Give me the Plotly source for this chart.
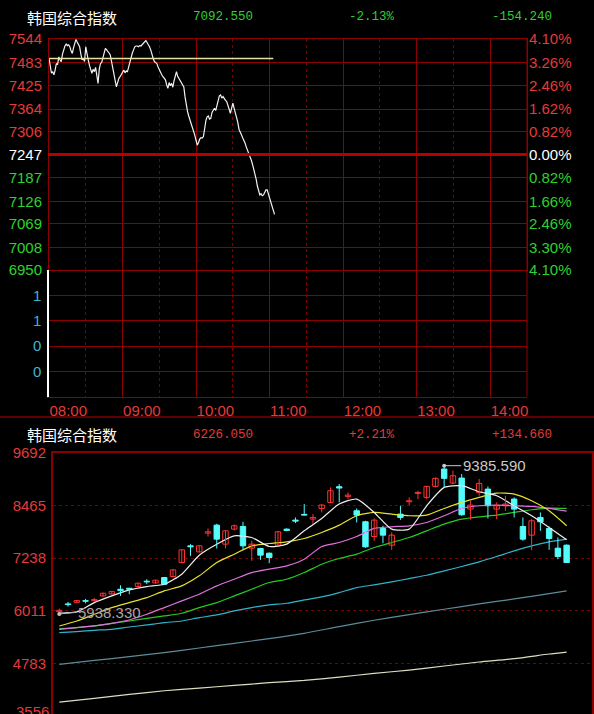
import plotly.graph_objects as go
import pandas as pd

# ---------------- data ----------------
index_name = "韩国综合指数"
intraday_header = ["7092.550", "-2.13%", "-154.240"]
daily_header = ["6226.050", "+2.21%", "+134.660"]
pre_close = 7246.79

intraday_start = "2000-01-03 08:00"
intraday_price = [7494,7470,7456,7460,7452,7464,7481,7478,7498,7490,
                  7486,7505,7520,7526,7531,7527,7529,7524,7514,7507,
                  7521,7530,7543,7536,7530,7524,7505,7490,7494,7486,
                  7524,7511,7490,7476,7468,7456,7466,7460,7471,7452,
                  7430,7466,7481,7484,7499,7512,7520,7516,7510,7508,
                  7503,7484,7466,7451,7437,7421,7434,7443,7447,7452,
                  7458,7464,7457,7462,7460,7474,7486,7497,7508,7516,
                  7524,7526,7526,7524,7527,7526,7529,7534,7537,7540,
                  7535,7530,7524,7516,7501,7494,7486,7484,7481,7472,
                  7464,7460,7452,7447,7443,7439,7426,7417,7432,7424,
                  7430,7420,7436,7451,7460,7448,7443,7439,7432,7428,
                  7421,7395,7370,7358,7346,7336,7327,7316,7310,7296,
                  7283,7271,7278,7287,7290,7289,7293,7318,7334,7344,
                  7346,7338,7340,7355,7362,7366,7360,7374,7392,7398,
                  7400,7392,7396,7390,7386,7383,7372,7360,7353,7366,
                  7379,7366,7354,7344,7330,7312,7302,7298,7290,7284,
                  7276,7266,7258,7250,7244,7233,7222,7210,7199,7184,
                  7166,7152,7143,7146,7141,7143,7150,7156,7156,7145,
                  7134,7122,7110,7100,7093]
avg_time = ["08:00", "11:03"]
avg_price = [7494, 7494]

price_ticks = [7544, 7483, 7425, 7364, 7306, 7247, 7187, 7126, 7069, 7008, 6950]
pct_ticks = ["4.10%", "3.26%", "2.46%", "1.62%", "0.82%", "0.00%", "0.82%", "1.66%", "2.46%", "3.30%", "4.10%"]
vol_tick_vals = [0.8, 0.6, 0.4, 0.2]
vol_tick_text = ["1", "1", "0", "0"]
time_ticks = ["08:00", "09:00", "10:00", "11:00", "12:00", "13:00", "14:00"]
session = ["08:00", "14:30"]

candle_open = [5994,6173,6212,6250,6250,6359,6406,6514,6538,6576,6701,6662,6786,6809,7135,7523,7383,7818,8004,7562,
               7911,7973,7469,7461,7352,7539,7911,8121,8253,8144,8392,8532,8897,8672,8338,8082,7740,7927,7539,8260,
               8547,8741,8648,8904,9308,8982,9098,8377,8765,8842,8377,8454,8610,7973,7771,8183,7927,7469,7539]
candle_close = [6025,6157,6250,6235,6274,6421,6460,6483,6514,6654,6685,6724,6631,6964,7430,7500,7523,7849,7678,7872,
                7989,7523,7562,7306,7251,7849,7880,8097,8237,8183,8470,8803,8866,8703,8237,7500,8121,7771,7771,8183,
                8571,8765,8904,9091,9091,9153,8245,8470,8974,8454,8454,8493,8377,7678,8105,8082,7694,7275,7135]
candle_high = [6064,6219,6266,6289,6313,6437,6475,6607,6545,6670,6747,6732,6801,6980,7446,7562,7539,7927,8035,7888,
               8020,8082,7640,7477,7368,7872,7927,8183,8493,8260,8493,8881,8959,8765,8392,8105,8159,7989,7833,8454,
               8648,8803,8920,9114,9385.59,9269,9191,8571,9075,8904,8532,8687,8648,8183,8144,8299,7973,7717,7554]
candle_low = [5938.33,6111,6196,6188,6219,6344,6390,6359,6398,6561,6631,6646,6615,6794,7120,7290,7368,7740,7461,7461,
              7880,7446,7174,7197,7120,7523,7864,8051,8229,8027,8299,8516,8532,8610,8066,7477,7640,7585,7430,8128,
              8470,8610,8610,8881,8881,8959,8221,8128,8687,8159,8144,8338,8183,7640,7422,7872,7430,7213,7135]
candle_idx = list(range(len(candle_open)))

ma_idx = [0,2,4,6,8,10,12,14,16,18,20,22,24,26,28,30,32,34,36,38,40,42,44,46,48,50,52,54,56,58]
ma5 = [5956,5987,6204,6359,6499,6576,6631,6864,7306,7562,7756,7717,7508,7562,7872,8159,8493,8610,8299,7911,
       7911,8454,8881,8920,8780,8687,8454,8222,7950,7663]
ma10 = [5661,5777,5932,6088,6204,6320,6476,6592,6825,7135,7329,7523,7577,7616,7694,7834,8004,8222,8299,8260,
        8222,8237,8392,8532,8648,8749,8726,8571,8338,7989]
ma20 = [5583,5622,5661,5723,5800,5932,6088,6243,6398,6592,6747,6902,6980,7058,7213,7508,7601,7740,7927,7965,
        7989,8066,8222,8392,8454,8470,8454,8439,8392,8330]
ma30 = [5599,5622,5661,5723,5777,5839,5894,5956,6088,6204,6359,6514,6670,6747,6902,7096,7228,7329,7484,7601,
        7717,7872,8028,8144,8198,8237,8299,8361,8400,8392]
ma60 = [5506,5529,5560,5583,5637,5684,5738,5777,5855,5917,6010,6088,6150,6188,6266,6336,6437,6553,6615,6685,
        6763,6840,6941,7042,7151,7275,7407,7523,7616,7678]
ma_long_idx = [0,4,8,12,16,20,24,28,32,36,40,44,48,52,56,58]
ma120 = [4768,4861,4947,5040,5149,5257,5366,5490,5645,5793,5925,6049,6173,6289,6413,6476]
ma250 = [3891,3977,4070,4155,4217,4279,4342,4396,4473,4559,4636,4730,4823,4900,5009,5055]

daily_ticks = [9692, 8465, 7238, 6011, 4783]
daily_cut_label = "3556"
daily_range = [3615, 9692]

# ---------------- style ----------------
W, H = 594, 714
RED_TXT = "#e23b3b"
GREEN_TXT = "#2ed12e"
GRID = "#8e0000"
GRID_DOT = "#7a0000"
CYAN_TXT = "#3fb3d3"
UP = "#ff3232"
DOWN = "#54fcfc"
FONT = "Liberation Sans, Arial, sans-serif"
MONO = "Liberation Mono, DejaVu Sans Mono, monospace"
CJK = "Noto Sans CJK SC, sans-serif"


def px(x):
    return x / W


def py(y):
    return 1 - y / H


DAY = "2000-01-03 "


def d(t):
    return DAY + t


intraday_time = pd.date_range(intraday_start, periods=len(intraday_price), freq="min")

x_dom = [px(49), px(527)]
price_dom = [py(270), py(39)]
vol_dom = [py(396.7), py(270)]
daily_x_dom = [px(53), px(592)]
daily_y_dom = [0, py(452.5)]


def col_price(v):
    if v > 7247:
        return RED_TXT
    if v < 7247:
        return GREEN_TXT
    return "#ffffff"


price_text = [f'<span style="color:{col_price(v)}">{v}</span>' for v in price_ticks]
pct_text = [f'<span style="color:{col_price(v)}">{p}</span>' for v, p in zip(price_ticks, pct_ticks)]

fig = go.Figure()

# intraday
fig.add_trace(go.Scatter(x=intraday_time, y=intraday_price, mode="lines",
                         line=dict(color="#f2f2f2", width=1.2), xaxis="x", yaxis="y", hoverinfo="skip"))
fig.add_trace(go.Scatter(x=[d(t) for t in avg_time], y=avg_price, mode="lines",
                         line=dict(color="#e6e0a8", width=1.5), xaxis="x", yaxis="y3", hoverinfo="skip"))
fig.add_trace(go.Scatter(x=[d(t) for t in session], y=[None, None], mode="lines",
                         xaxis="x2", yaxis="y2", hoverinfo="skip"))

# moving averages (under candles)
for vals, xs, color in [(ma250, ma_long_idx, "#e0dcc0"), (ma120, ma_long_idx, "#5a8c9a"),
                        (ma60, ma_idx, "#2fb4cc"), (ma30, ma_idx, "#22cc22"),
                        (ma20, ma_idx, "#e070e0"), (ma10, ma_idx, "#e6e22a"), (ma5, ma_idx, "#f0f0f0")]:
    fig.add_trace(go.Scatter(x=xs, y=vals, mode="lines",
                             line=dict(color=color, width=1.2, shape="spline", smoothing=0.6),
                             xaxis="x3", yaxis="y4", hoverinfo="skip"))

# candles: wicks + bodies
for up in (True, False):
    sel = [i for i in candle_idx if (candle_close[i] >= candle_open[i]) == up]
    wx, wy = [], []
    for i in sel:
        wx += [i, i, None]
        wy += [candle_low[i], candle_high[i], None]
    color = UP if up else DOWN
    fig.add_trace(go.Scatter(x=wx, y=wy, mode="lines", line=dict(color=color, width=1),
                             xaxis="x3", yaxis="y4", hoverinfo="skip"))
    fig.add_trace(go.Bar(x=sel,
                         y=[abs(candle_close[i] - candle_open[i]) for i in sel],
                         base=[min(candle_close[i], candle_open[i]) for i in sel],
                         width=0.62,
                         marker=dict(color="#000000" if up else DOWN, line=dict(color=color, width=1)),
                         xaxis="x3", yaxis="y4", hoverinfo="skip"))

hi_i = max(candle_idx, key=lambda i: candle_high[i])
lo_i = min(candle_idx, key=lambda i: candle_low[i])
fig.add_trace(go.Scatter(x=[hi_i, lo_i], y=[candle_high[hi_i], candle_low[lo_i]], mode="markers",
                         marker=dict(color="#c8c8c8", size=4), xaxis="x3", yaxis="y4", hoverinfo="skip"))

tick_font = dict(family=FONT, size=15)

fig.update_layout(
    width=W, height=H, autosize=False,
    margin=dict(l=0, r=0, t=0, b=0, pad=0, autoexpand=False),
    paper_bgcolor="#000000", plot_bgcolor="#000000",
    showlegend=False, barmode="overlay",
    xaxis=dict(domain=x_dom, anchor="y", type="date", range=[d(session[0]), d(session[1])],
               tickvals=[d(t) for t in time_ticks], showticklabels=False, ticks="",
               showgrid=True, gridcolor=GRID, gridwidth=1,
               minor=dict(dtick=1800000, tick0=d("08:30"), showgrid=True, gridcolor=GRID_DOT, griddash="dot", gridwidth=1),
               showline=True, mirror=True, linecolor=GRID, linewidth=1, zeroline=False),
    yaxis=dict(domain=price_dom, anchor="x", range=[price_ticks[-1], price_ticks[0]],
               tickvals=price_ticks, ticktext=price_text, tickfont=tick_font, ticks="", ticklabelstandoff=3,
               showgrid=True, gridcolor=GRID, gridwidth=1, zeroline=False,
               showline=True, mirror=True, linecolor=GRID, linewidth=1),
    yaxis3=dict(overlaying="y", side="right", anchor="x", range=[price_ticks[-1], price_ticks[0]],
                tickvals=price_ticks, ticktext=pct_text, tickfont=tick_font, ticks="", ticklabelstandoff=1,
                showgrid=False, zeroline=False, showline=False),
    xaxis2=dict(domain=x_dom, anchor="y2", matches="x", type="date", range=[d(session[0]), d(session[1])],
                tickvals=[d(t) for t in time_ticks], ticktext=time_ticks, ticks="",
                ticklabelposition="outside right", tickfont=dict(family=FONT, size=15, color=RED_TXT),
                showgrid=True, gridcolor=GRID, gridwidth=1,
                minor=dict(dtick=1800000, tick0=d("08:30"), showgrid=True, gridcolor=GRID_DOT, griddash="dot", gridwidth=1),
                showline=True, linecolor=GRID, linewidth=1, zeroline=False),
    yaxis2=dict(domain=vol_dom, anchor="x2", range=[0, 1], tickvals=vol_tick_vals, ticktext=vol_tick_text,
                tickfont=dict(family=FONT, size=15, color=CYAN_TXT), ticks="", ticklabelstandoff=3,
                showgrid=True, gridcolor=GRID, gridwidth=1, zeroline=False,
                showline=True, linecolor="#ffffff", linewidth=1.5),
    xaxis3=dict(domain=daily_x_dom, anchor="y4", side="top", range=[-0.72, 60.9],
                showticklabels=False, ticks="", showgrid=False, zeroline=False,
                showline=True, linecolor="#8a0000", linewidth=2),
    yaxis4=dict(domain=daily_y_dom, anchor="x3", range=daily_range, tickvals=daily_ticks,
                ticktext=[str(v) for v in daily_ticks], ticks="", ticklabelstandoff=2,
                tickfont=dict(family=FONT, size=15, color=RED_TXT),
                showgrid=True, gridcolor=GRID_DOT, griddash="dot", gridwidth=1, zeroline=False,
                showline=True, mirror=True, linecolor="#8a0000", linewidth=2),
)

# preclose thick line, right border, separator
fig.add_shape(type="line", xref="paper", yref="y", x0=px(48), x1=x_dom[1], y0=pre_close, y1=pre_close,
              line=dict(color="#b80000", width=3))
fig.add_shape(type="line", xref="paper", yref="paper", x0=x_dom[1], x1=x_dom[1], y0=vol_dom[0], y1=price_dom[1],
              line=dict(color=GRID, width=1))
fig.add_shape(type="line", xref="paper", yref="paper", x0=0, x1=1, y0=py(417), y1=py(417),
              line=dict(color="#600000", width=2))

ann = []


def header(y, vals, color):
    ann.append(dict(x=px(25), y=py(y), xref="paper", yref="paper", xanchor="left", yanchor="middle",
                    text=index_name, showarrow=False, font=dict(family=CJK, size=15, color="#ffffff")))
    for xx, t in zip([191, 347, 490], vals):
        ann.append(dict(x=px(xx), y=py(y), xref="paper", yref="paper", xanchor="left", yanchor="middle",
                        text=t, showarrow=False, font=dict(family=MONO, size=12.5, color=color)))


header(17, intraday_header, GREEN_TXT)
header(435, daily_header, RED_TXT)

ann.append(dict(x=hi_i, y=candle_high[hi_i], xref="x3", yref="y4", text=f"{candle_high[hi_i]:.3f}",
                showarrow=True, arrowhead=0, arrowwidth=1, arrowcolor="#c8c8c8", ax=17, ay=0, standoff=0,
                xanchor="left", yanchor="middle", font=dict(family=FONT, size=15, color="#c8c8c8")))
ann.append(dict(x=lo_i, y=candle_low[lo_i], xref="x3", yref="y4", text=f"{candle_low[lo_i]:.3f}",
                showarrow=True, arrowhead=0, arrowwidth=1, arrowcolor="#b0b0b0", ax=17, ay=-2, standoff=0,
                xanchor="left", yanchor="middle", font=dict(family=FONT, size=15, color="#a8a8a8")))
ann.append(dict(x=px(51), y=py(711), xref="paper", yref="paper", xanchor="right", yanchor="middle",
                text=daily_cut_label, showarrow=False, font=dict(family=FONT, size=15, color=RED_TXT)))

fig.update_layout(annotations=ann)
fig.write_html("out.html")
